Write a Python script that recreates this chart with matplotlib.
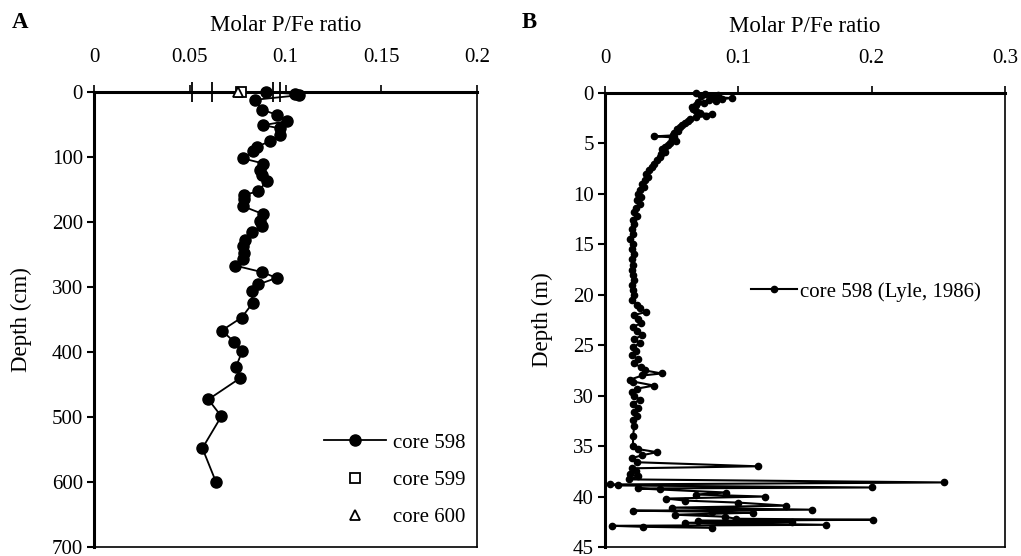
import matplotlib
matplotlib.use("Agg")
import matplotlib.pyplot as plt
from matplotlib.lines import Line2D

plt.rcParams['font.family'] = ['Liberation Serif', 'DejaVu Serif']

# ---------------- Data ----------------
# Panel A: core 598 (depth cm, molar P/Fe)
depth_A = [0, 3, 5, 12, 27, 35, 45, 51, 56, 66, 76, 84, 91, 102, 110, 120, 127, 137,
           153, 158, 165, 176, 188, 199, 206, 216, 227, 237, 247, 257, 267, 277, 286,
           296, 306, 325, 347, 367, 384, 399, 423, 440, 473, 499, 548, 600]
ratio_A = [0.090, 0.105, 0.107, 0.084, 0.0876, 0.0954, 0.1006, 0.0884, 0.0971, 0.097,
           0.0919, 0.085, 0.0832, 0.0776, 0.0884, 0.0867, 0.0876, 0.0902, 0.0858, 0.0785,
           0.0785, 0.078, 0.0884, 0.0867, 0.0876, 0.0823, 0.0789, 0.078, 0.0783, 0.078,
           0.0736, 0.0876, 0.0954, 0.0858, 0.0823, 0.0828, 0.0771, 0.0667, 0.0731, 0.0774,
           0.0741, 0.0764, 0.0597, 0.0665, 0.0566, 0.0637]

# core 599 and 600 (surface samples with ranges)
core599_val = 0.077
core599_err = [0.026, 0.020]
core600_val = 0.0753
core600_err = [0.0135, 0.0183]

# Panel B: core 598 (Lyle, 1986), depth m
depth_B = [0.0, 0.1, 0.2, 0.3, 0.4, 0.5, 0.6, 0.7, 0.8, 0.9, 1.0, 1.2, 1.4, 1.6, 1.8, 2.0,
           2.1, 2.3, 2.4, 2.6, 2.8, 3.0, 3.2, 3.4, 3.6, 3.8, 4.0, 4.2, 4.3, 4.4, 4.6, 4.8,
           5.0, 5.2, 5.4, 5.6, 5.8, 6.0, 6.3, 6.6, 7.0, 7.3, 7.6, 8.0, 8.3, 8.6, 9.0, 9.3,
           9.6, 10.0, 10.3, 10.6, 11.0, 11.4, 11.8, 12.2, 12.6, 13.0, 13.5, 14.0, 14.5,
           15.0, 15.5, 16.0, 16.5, 17.0, 17.5, 18.0, 18.5, 19.0, 19.5, 20.0, 20.5, 21.0,
           21.3, 21.7, 22.0, 22.4, 22.8, 23.2, 23.6, 24.0, 24.4, 24.8, 25.2, 25.6, 26.0,
           26.4, 26.8, 27.2, 27.5, 27.8, 28.0, 28.4, 28.6, 29.0, 29.3, 29.6, 30.0, 30.4,
           30.8, 31.2, 31.6, 32.0, 32.4, 33.0, 34.0, 35.0, 35.3, 35.6, 35.9, 36.2, 36.6,
           37.0, 37.2, 37.5, 37.8, 38.0, 38.3, 38.6, 38.8, 38.9, 39.1, 39.2, 39.3, 39.6,
           39.8, 40.0, 40.2, 40.4, 40.6, 40.9, 41.1, 41.3, 41.4, 41.5, 41.6, 41.8, 42.0,
           42.2, 42.3, 42.4, 42.5, 42.6, 42.8, 42.9, 43.0, 43.1]
ratio_B = [0.068, 0.075, 0.085, 0.072, 0.080, 0.095, 0.088, 0.078, 0.083, 0.070, 0.074,
           0.068, 0.065, 0.066, 0.068, 0.071, 0.080, 0.076, 0.068, 0.064, 0.062, 0.060,
           0.058, 0.056, 0.054, 0.055, 0.052, 0.051, 0.037, 0.052, 0.050, 0.053, 0.049,
           0.047, 0.045, 0.043, 0.045, 0.042, 0.041, 0.039, 0.037, 0.035, 0.033, 0.031,
           0.032, 0.030, 0.028, 0.029, 0.026, 0.025, 0.027, 0.024, 0.026, 0.023, 0.022,
           0.024, 0.021, 0.022, 0.020, 0.021, 0.019, 0.021, 0.020, 0.022, 0.020, 0.021,
           0.020, 0.021, 0.022, 0.020, 0.021, 0.022, 0.020, 0.024, 0.026, 0.031, 0.022,
           0.025, 0.027, 0.021, 0.024, 0.028, 0.022, 0.026, 0.021, 0.023, 0.020, 0.025,
           0.022, 0.027, 0.030, 0.0425, 0.028, 0.019, 0.021, 0.0368, 0.024, 0.020, 0.022,
           0.026, 0.021, 0.025, 0.022, 0.024, 0.021, 0.022, 0.021, 0.021, 0.025, 0.039,
           0.028, 0.020, 0.024, 0.1145, 0.020, 0.023, 0.019, 0.025, 0.018, 0.2545, 0.0037,
           0.010, 0.200, 0.025, 0.041, 0.091, 0.068, 0.120, 0.046, 0.060, 0.100, 0.136,
           0.050, 0.155, 0.021, 0.080, 0.111, 0.0525, 0.090, 0.098, 0.201, 0.070, 0.140,
           0.060, 0.166, 0.0055, 0.0288, 0.080]

xticks_A = [0, 0.05, 0.1, 0.15, 0.2]
xticklabels_A = ["0", "0.05", "0.1", "0.15", "0.2"]
yticks_A = [0, 100, 200, 300, 400, 500, 600, 700]
xticks_B = [0, 0.1, 0.2, 0.3]
xticklabels_B = ["0", "0.1", "0.2", "0.3"]
yticks_B = [0, 5, 10, 15, 20, 25, 30, 35, 40, 45]

# ---------------- Figure ----------------
fig = plt.figure(figsize=(10.21, 5.56), dpi=100)
axA = fig.add_axes([94/1021, 9/556, 383/1021, 455/556])
axB = fig.add_axes([605/1021, 9/556, 400/1021, 454/556])

TICK_FS = 15
LABEL_FS = 16.5


def style(ax):
    ax.xaxis.tick_top()
    ax.xaxis.set_label_position('top')
    for s in ['top', 'left']:
        ax.spines[s].set_linewidth(2.2)
    for s in ['bottom', 'right']:
        ax.spines[s].set_linewidth(1.2)
    ax.tick_params(axis='x', direction='out', length=5, width=1.2, labelsize=TICK_FS, pad=13)
    ax.tick_params(axis='y', direction='out', length=5, width=1.5, labelsize=TICK_FS, pad=3)
    ax.tick_params(axis='x', which='both', bottom=False, top=True)


# Panel A
axA.plot(ratio_A, depth_A, '-o', color='black', lw=1.3, ms=8, clip_on=False,
         label='core 598', zorder=3)
axA.errorbar([core599_val], [0], xerr=[[core599_err[0]], [core599_err[1]]], fmt='s',
             mfc='white', mec='black', ms=7, mew=1.3, ecolor='black', elinewidth=1.3,
             capsize=7, capthick=1.3, clip_on=False, zorder=4)
axA.errorbar([core600_val], [0], xerr=[[core600_err[0]], [core600_err[1]]], fmt='^',
             mfc='white', mec='black', ms=7, mew=1.3, ecolor='black', elinewidth=1.3,
             capsize=7, capthick=1.3, clip_on=False, zorder=4)
axA.set_xlim(0, 0.2)
axA.set_ylim(700, 0)
axA.set_xticks(xticks_A)
axA.set_xticklabels(xticklabels_A)
axA.set_yticks(yticks_A)
style(axA)
axA.set_xlabel('Molar P/Fe ratio', fontsize=LABEL_FS, labelpad=12)
axA.set_ylabel('Depth (cm)', fontsize=LABEL_FS, labelpad=14)

hA = [Line2D([], [], color='black', marker='o', ms=8, lw=1.3),
      Line2D([], [], color='none', marker='s', mfc='white', mec='black', ms=7, mew=1.3),
      Line2D([], [], color='none', marker='^', mfc='white', mec='black', ms=7, mew=1.3)]
axA.legend(hA, ['core 598', 'core 599', 'core 600'], loc='center left',
           bbox_to_anchor=(0.60, 0.147), frameon=False, fontsize=TICK_FS,
           handlelength=3.0, handletextpad=0.3, labelspacing=0.85, borderpad=0,
           borderaxespad=0)

# Panel B
axB.plot(ratio_B, depth_B, '-o', color='black', lw=1.5, ms=4.5, clip_on=False,
         label='core 598 (Lyle, 1986)')
axB.set_xlim(0, 0.3)
axB.set_ylim(45, 0)
axB.set_xticks(xticks_B)
axB.set_xticklabels(xticklabels_B)
axB.set_yticks(yticks_B)
style(axB)
axB.set_xlabel('Molar P/Fe ratio', fontsize=LABEL_FS, labelpad=12)
axB.set_ylabel('Depth (m)', fontsize=LABEL_FS, labelpad=14)
axB.legend(loc='center left', bbox_to_anchor=(0.365, 0.562), frameon=False,
           fontsize=TICK_FS, handlelength=2.2, handletextpad=0.15, borderpad=0,
           borderaxespad=0)

fig.text(12/1021, 1 - 22/556, 'A', fontsize=LABEL_FS, fontweight='bold', va='center')
fig.text(522/1021, 1 - 22/556, 'B', fontsize=LABEL_FS, fontweight='bold', va='center')

fig.savefig('out.png', dpi=100)
